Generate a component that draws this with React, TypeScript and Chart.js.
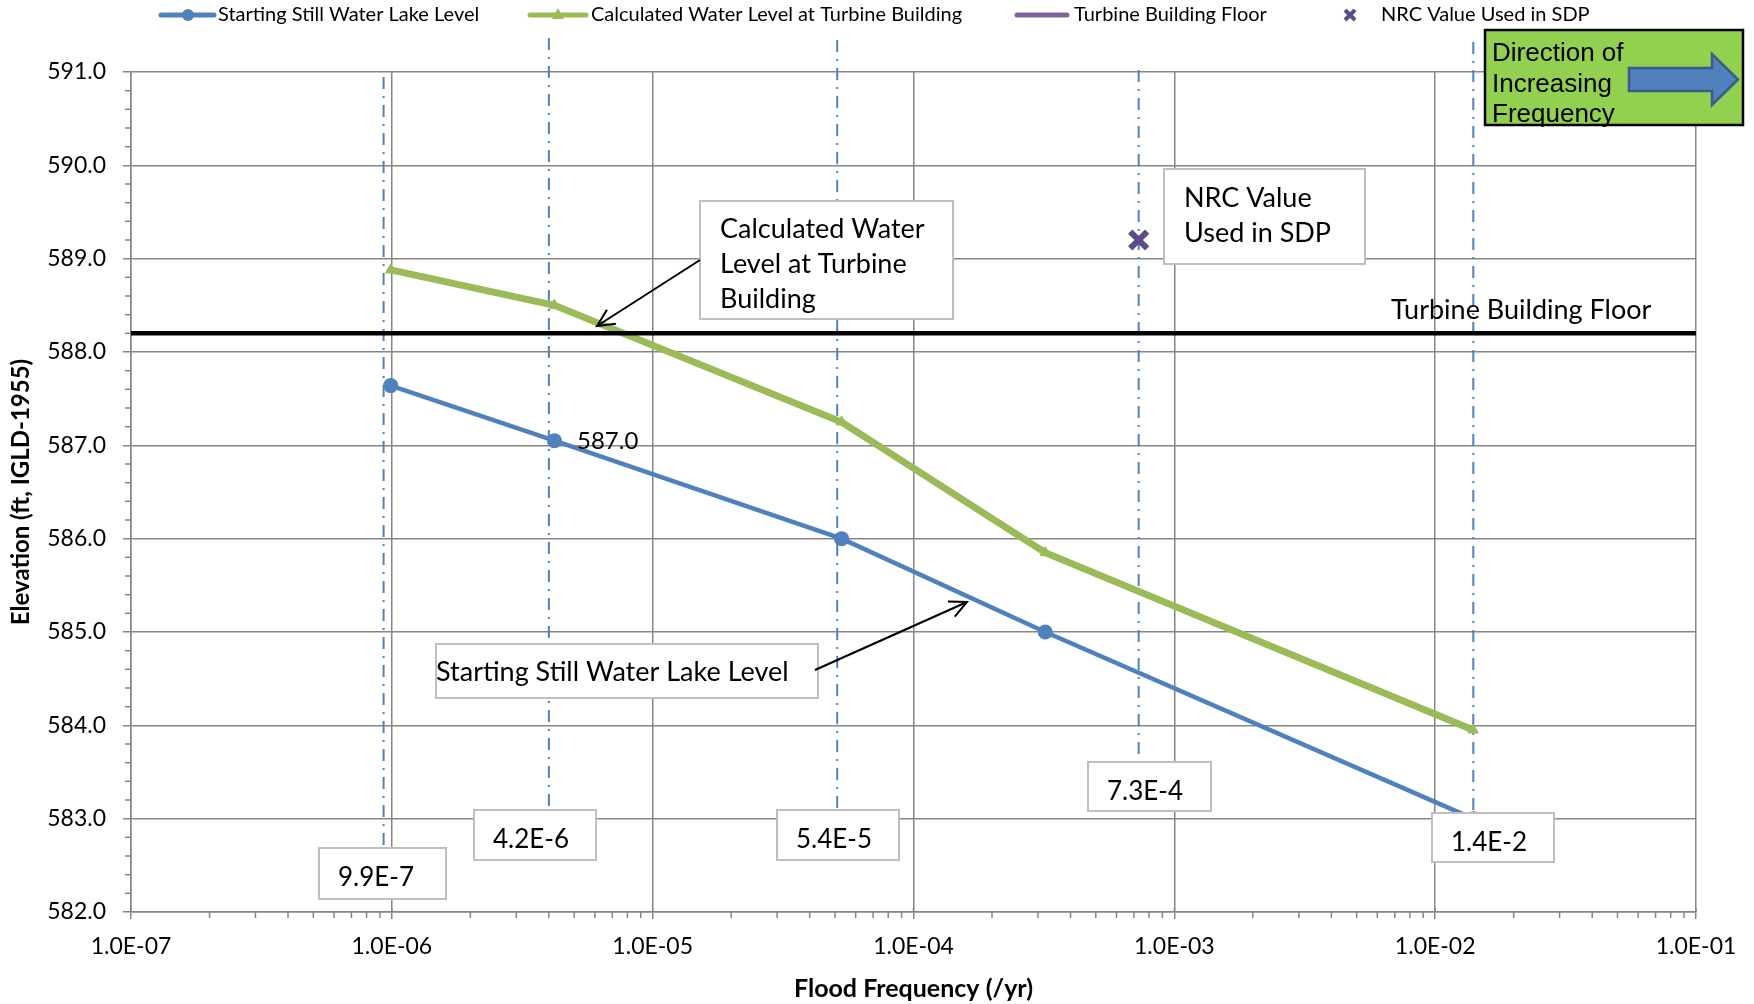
import React, { useEffect, useRef } from 'react';
import { Chart, registerables } from 'chart.js';
Chart.register(...registerables);

// ---------- data ----------
const floodFrequency = [9.9e-7, 4.2e-6, 5.3e-5, 3.2e-4, 1.4e-2];
const stillWaterLakeLevel = [587.64, 587.05, 586.0, 585.0, 583.0];
const calcTurbineLevel = [588.88, 588.5, 587.25, 585.85, 583.95];
const turbineFloorLevel = 588.2;
const nrcFrequency = [7.3e-4];
const nrcLevel = [589.2];
const refFrequencies = [9.3e-7, 4.0e-6, 5.1e-5, 7.3e-4, 1.4e-2];
const refLabels = ['9.9E-7', '4.2E-6', '5.4E-5', '7.3E-4', '1.4E-2'];
const xDecades = [1e-7, 1e-6, 1e-5, 1e-4, 1e-3, 1e-2, 1e-1];
const yMin = 582;
const yMax = 591;
const yStep = 1;
const legendLabels = [
  'Starting Still Water Lake Level',
  'Calculated Water Level at Turbine Building',
  'Turbine Building Floor',
  'NRC Value Used in SDP',
];
const calcNote = ['Calculated Water', 'Level at Turbine', 'Building'];
const nrcNote = ['NRC Value', 'Used in SDP'];
const stillNote = 'Starting Still Water Lake Level';
const floorNote = 'Turbine Building Floor';
const pointNote = '587.0';
const directionNote = ['Direction of', 'Increasing', 'Frequency'];

// ---------- styles / layout ----------
const BLUE = '#4F81BD';
const GREEN = '#9BBB59';
const PURPLE = '#8064A2';
const XPURPLE = '#5F4B8B';
const GRID = '#868686';
const BOXBORDER = '#BFBFBF';
const FONT = 'Lato, "Open Sans", sans-serif';

const refLineTops = [77, 38, 40, 70, 42];
const refBoxes = [
  { x: 319, y: 848, w: 127, h: 51 },
  { x: 474, y: 810, w: 122, h: 50 },
  { x: 777, y: 810, w: 122, h: 50 },
  { x: 1088, y: 762, w: 123, h: 49 },
  { x: 1432, y: 813, w: 122, h: 49 },
];

function fmtExp(v: number) {
  const e = Math.round(Math.log10(v));
  const m = v / Math.pow(10, e);
  return m.toFixed(1) + 'E' + (e < 0 ? '-' : '+') + String(Math.abs(e)).padStart(2, '0');
}

function seg(ctx: CanvasRenderingContext2D, x1: number, y1: number, x2: number, y2: number) {
  ctx.beginPath();
  ctx.moveTo(x1, y1);
  ctx.lineTo(x2, y2);
  ctx.stroke();
}

function box(ctx: CanvasRenderingContext2D, x: number, y: number, w: number, h: number) {
  ctx.fillStyle = '#FFFFFF';
  ctx.fillRect(x, y, w, h);
  ctx.strokeStyle = BOXBORDER;
  ctx.lineWidth = 2;
  ctx.strokeRect(x, y, w, h);
}

function arrow(ctx: CanvasRenderingContext2D, x1: number, y1: number, x2: number, y2: number) {
  ctx.strokeStyle = '#000';
  ctx.lineWidth = 2;
  seg(ctx, x1, y1, x2, y2);
  const a = Math.atan2(y2 - y1, x2 - x1);
  const L = 19;
  const s = 0.45;
  ctx.beginPath();
  ctx.moveTo(x2 - L * Math.cos(a - s), y2 - L * Math.sin(a - s));
  ctx.lineTo(x2, y2);
  ctx.lineTo(x2 - L * Math.cos(a + s), y2 - L * Math.sin(a + s));
  ctx.stroke();
}

const annotationPlugin = {
  id: 'sdpAnnotations',
  beforeDatasetsDraw(chart: any) {
    const { ctx, chartArea } = chart;
    const xs = chart.scales.x;
    const ys = chart.scales.y;
    ctx.save();
    ctx.strokeStyle = GRID;
    ctx.lineWidth = 1.5;
    // y minor ticks
    for (let i = 1; i < (yMax - yMin) * 5; i++) {
      if (i % 5 === 0) continue;
      const py = ys.getPixelForValue(yMin + i * 0.2);
      seg(ctx, chartArea.left - 6, py, chartArea.left, py);
    }
    // x minor ticks
    for (let d = 0; d < xDecades.length - 1; d++) {
      for (let k = 2; k <= 9; k++) {
        const px = xs.getPixelForValue(xDecades[d] * k);
        seg(ctx, px, chartArea.bottom, px, chartArea.bottom + 6);
      }
    }
    xDecades.forEach((v) => {
      const px = xs.getPixelForValue(v);
      seg(ctx, px, chartArea.bottom - 4, px, chartArea.bottom);
    });
    // reference vertical dash-dot lines
    ctx.strokeStyle = BLUE;
    ctx.lineWidth = 2;
    ctx.setLineDash([12, 7, 2, 7]);
    refFrequencies.forEach((f, i) => {
      const px = xs.getPixelForValue(f);
      seg(ctx, px, refLineTops[i], px, refBoxes[i].y);
    });
    ctx.restore();
  },
  afterDatasetsDraw(chart: any) {
    const { ctx } = chart;
    ctx.save();
    ctx.textAlign = 'left';
    ctx.textBaseline = 'alphabetic';
    // frequency label boxes
    refLabels.forEach((t, i) => {
      const b = refBoxes[i];
      box(ctx, b.x, b.y, b.w, b.h);
      ctx.fillStyle = '#000';
      ctx.font = `26px ${FONT}`;
      ctx.fillText(t, b.x + 19, b.y + 38);
    });
    // calculated water level note
    box(ctx, 700, 201, 253, 118);
    ctx.fillStyle = '#000';
    ctx.font = `27px ${FONT}`;
    calcNote.forEach((t, i) => ctx.fillText(t, 720, 238 + i * 35));
    arrow(ctx, 700, 260, 597, 326);
    // NRC note
    box(ctx, 1164, 169, 201, 95);
    ctx.fillStyle = '#000';
    ctx.font = `27px ${FONT}`;
    nrcNote.forEach((t, i) => ctx.fillText(t, 1184, 207 + i * 34.5));
    // still water note
    box(ctx, 436, 644, 382, 54);
    ctx.fillStyle = '#000';
    ctx.font = `27px ${FONT}`;
    ctx.fillText(stillNote, 436, 681);
    arrow(ctx, 815, 670, 967, 602);
    // floor label & point label
    ctx.fillStyle = '#000';
    ctx.font = `27px ${FONT}`;
    ctx.fillText(floorNote, 1391, 319);
    ctx.font = `24px ${FONT}`;
    ctx.fillText(pointNote, 577, 449);

    // direction box
    ctx.fillStyle = '#92D050';
    ctx.fillRect(1485, 30, 258, 95);
    ctx.strokeStyle = '#000';
    ctx.lineWidth = 2.5;
    ctx.strokeRect(1485, 30, 258, 95);
    ctx.beginPath();
    ctx.moveTo(1629, 68);
    ctx.lineTo(1712, 68);
    ctx.lineTo(1712, 54);
    ctx.lineTo(1738, 79.5);
    ctx.lineTo(1712, 105);
    ctx.lineTo(1712, 91);
    ctx.lineTo(1629, 91);
    ctx.closePath();
    ctx.fillStyle = BLUE;
    ctx.fill();
    ctx.strokeStyle = '#385D8A';
    ctx.lineWidth = 2.5;
    ctx.stroke();
    ctx.fillStyle = '#000';
    ctx.font = `26px "Liberation Sans", Arial, sans-serif`;
    directionNote.forEach((t, i) => ctx.fillText(t, 1492, 61 + i * 30.5));

    // legend
    const ly = 15;
    ctx.lineCap = 'round';
    ctx.lineWidth = 5;
    ctx.strokeStyle = BLUE;
    seg(ctx, 161, ly, 214, ly);
    ctx.fillStyle = BLUE;
    ctx.beginPath();
    ctx.arc(188, ly, 6, 0, Math.PI * 2);
    ctx.fill();
    ctx.strokeStyle = GREEN;
    seg(ctx, 530, ly, 586, ly);
    ctx.fillStyle = GREEN;
    ctx.beginPath();
    ctx.moveTo(558, ly - 7);
    ctx.lineTo(564, ly + 4);
    ctx.lineTo(552, ly + 4);
    ctx.closePath();
    ctx.fill();
    ctx.strokeStyle = PURPLE;
    seg(ctx, 1017, ly, 1067, ly);
    ctx.lineCap = 'butt';
    ctx.strokeStyle = XPURPLE;
    ctx.lineWidth = 4;
    seg(ctx, 1345, ly - 5, 1355, ly + 5);
    seg(ctx, 1345, ly + 5, 1355, ly - 5);
    ctx.fillStyle = '#000';
    ctx.font = `20px ${FONT}`;
    ctx.textBaseline = 'middle';
    ctx.fillText(legendLabels[0], 218, ly);
    ctx.fillText(legendLabels[1], 591, ly);
    ctx.fillText(legendLabels[2], 1074, ly);
    ctx.fillText(legendLabels[3], 1381, ly);
    ctx.restore();
  },
};

export default function App() {
  const ref = useRef<HTMLCanvasElement | null>(null);
  useEffect(() => {
    if (!ref.current) return;
    const pts = (ys: number[]) => floodFrequency.map((x, i) => ({ x, y: ys[i] }));
    const chart = new Chart(ref.current, {
      type: 'scatter',
      data: {
        datasets: [
          {
            label: legendLabels[2],
            data: [
              { x: xDecades[0], y: turbineFloorLevel },
              { x: xDecades[xDecades.length - 1], y: turbineFloorLevel },
            ],
            showLine: true,
            borderColor: '#000',
            borderWidth: 4.5,
            pointRadius: 0,
            order: 0,
          },
          {
            label: legendLabels[3],
            data: nrcFrequency.map((x, i) => ({ x, y: nrcLevel[i] })),
            pointStyle: 'crossRot',
            pointRadius: 12,
            borderColor: XPURPLE,
            borderWidth: 6,
            backgroundColor: XPURPLE,
            order: 0,
          },
          {
            label: legendLabels[1],
            data: pts(calcTurbineLevel),
            showLine: true,
            borderColor: GREEN,
            backgroundColor: GREEN,
            borderWidth: 7,
            pointStyle: 'triangle',
            pointRadius: 6,
            pointBorderWidth: 1,
            order: 1,
          },
          {
            label: legendLabels[0],
            data: pts(stillWaterLakeLevel),
            showLine: true,
            borderColor: BLUE,
            backgroundColor: BLUE,
            borderWidth: 4.5,
            pointStyle: 'circle',
            pointRadius: 7.5,
            pointBorderWidth: 0,
            order: 2,
          },
        ],
      },
      options: {
        animation: false,
        responsive: false,
        devicePixelRatio: 1,
        layout: { padding: { left: 0, right: 58, top: 72, bottom: 0 } },
        plugins: {
          legend: { display: false },
          tooltip: { enabled: false },
          title: { display: false },
        },
        scales: {
          x: {
            type: 'logarithmic',
            min: xDecades[0],
            max: xDecades[xDecades.length - 1],
            afterBuildTicks: (s: any) => {
              s.ticks = xDecades.map((v) => ({ value: v }));
            },
            afterFit: (s: any) => {
              s.height = 92;
            },
            ticks: {
              callback: (v: any) => fmtExp(Number(v)),
              autoSkip: false,
              maxRotation: 0,
              color: '#000',
              padding: 14,
              font: { family: FONT, size: 23 },
            },
            grid: { color: GRID, lineWidth: 1.5, tickLength: 7 },
            border: { color: GRID, width: 1.5 },
            title: {
              display: true,
              text: 'Flood Frequency (/yr)',
              color: '#000',
              font: { family: FONT, size: 25, weight: 'bold' },
              padding: { top: 0, bottom: 0 },
            },
          },
          y: {
            min: yMin,
            max: yMax,
            afterFit: (s: any) => {
              s.width = 131;
            },
            ticks: {
              stepSize: yStep,
              callback: (v: any) => Number(v).toFixed(1),
              color: '#000',
              padding: 17,
              font: { family: FONT, size: 23 },
            },
            grid: { color: GRID, lineWidth: 1.5, tickLength: 8 },
            border: { color: GRID, width: 1.5 },
            title: {
              display: true,
              text: 'Elevation (ft, IGLD-1955)',
              color: '#000',
              font: { family: FONT, size: 24, weight: 'bold' },
              padding: { top: 7, bottom: 0 },
            },
          },
        },
      },
      plugins: [annotationPlugin],
    } as any);
    return () => chart.destroy();
  }, []);
  return (
    <div style={{ position: 'absolute', left: 0, top: 0, width: 1754, height: 1004, background: '#fff' }}>
      <canvas ref={ref} width={1754} height={1004} style={{ display: 'block' }} />
    </div>
  );
}
